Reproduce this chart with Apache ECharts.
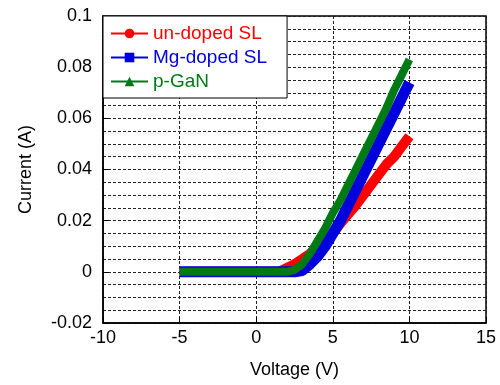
<!DOCTYPE html>
<html>
<head>
<meta charset="utf-8">
<script src="https://cdn.jsdelivr.net/npm/echarts@6/dist/echarts.min.js"></script>
<style>
  html, body { margin: 0; padding: 0; background: #fff; }
  #main { width: 500px; height: 385px; }
</style>
</head>
<body>
<div id="main"></div>
<script>
// voltage readings (V)
var voltage = [-5, 0, 1, 1.5, 2, 2.5, 3, 3.5, 4, 4.5, 5, 5.5, 6, 6.5, 7, 7.5, 8, 8.5, 9, 9.5, 10];
// current (A)
var undoped = [0, 0, 0, 0, 0.0015, 0.003, 0.005, 0.007, 0.0095, 0.012, 0.015, 0.019, 0.0225, 0.026, 0.030, 0.034, 0.038, 0.042, 0.045, 0.049, 0.053];
var mgDoped = [0, 0, 0, 0, 0, 0, 0.0005, 0.003, 0.006, 0.010, 0.015, 0.020, 0.026, 0.032, 0.038, 0.044, 0.050, 0.056, 0.062, 0.068, 0.074];
var pGaN    = [0, 0, 0, 0, 0, 0.0008, 0.003, 0.007, 0.012, 0.017, 0.023, 0.028, 0.034, 0.040, 0.046, 0.052, 0.058, 0.064, 0.071, 0.077, 0.083];

var seriesNames = ['un-doped SL', 'Mg-doped SL', 'p-GaN'];

function pairs(ys) {
  return voltage.map(function (v, i) { return [v, ys[i]]; });
}

var font = 'Liberation Sans, Arial, sans-serif';
var dash = { color: '#222', width: 1, type: [3, 2] };

var myChart = echarts.init(document.getElementById('main'));

var option = {
  animation: false,
  backgroundColor: '#fff',
  grid: { left: 103, right: 14, top: 16, bottom: 62, show: true, borderColor: '#000', borderWidth: 1.5 },
  legend: {
    orient: 'vertical',
    left: 103,
    top: 16,
    data: seriesNames,
    itemWidth: 37,
    itemHeight: 12,
    itemGap: 5,
    padding: [8, 20, 7, 7],
    backgroundColor: '#fff',
    borderColor: '#000',
    borderWidth: 1,
    textStyle: { fontFamily: font, fontSize: 19, color: 'inherit' }
  },
  xAxis: {
    type: 'value',
    min: -10, max: 15, interval: 5,
    name: 'Voltage (V)',
    nameLocation: 'middle',
    nameGap: 38,
    nameTextStyle: { fontFamily: font, fontSize: 18, color: '#000' },
    axisLine: { show: true, onZero: false, lineStyle: { color: '#000', width: 1.5 } },
    axisTick: { show: true, inside: true, length: 6, lineStyle: { color: '#000' } },
    axisLabel: { fontFamily: font, fontSize: 18, color: '#000', margin: 6 },
    splitLine: { show: true, lineStyle: dash }
  },
  yAxis: {
    type: 'value',
    min: -0.02, max: 0.1, interval: 0.02,
    name: 'Current (A)',
    nameLocation: 'middle',
    nameGap: 68,
    nameTextStyle: { fontFamily: font, fontSize: 18, color: '#000' },
    axisLine: { show: true, onZero: false, lineStyle: { color: '#000', width: 1.5 } },
    axisTick: { show: true, inside: true, length: 6, lineStyle: { color: '#000' } },
    axisLabel: { fontFamily: font, fontSize: 18, color: '#000', margin: 11 },
    splitLine: { show: true, lineStyle: dash },
    minorTick: { show: false, splitNumber: 4 },
    minorSplitLine: { show: true, lineStyle: dash }
  },
  series: [
    {
      name: seriesNames[0], type: 'line', data: pairs(undoped),
      symbol: 'circle', showSymbol: false,
      color: '#ff0000',
      lineStyle: { width: 10, color: '#ff0000' }
    },
    {
      name: seriesNames[1], type: 'line', data: pairs(mgDoped),
      symbol: 'rect', showSymbol: false,
      color: '#0000dd',
      lineStyle: { width: 11, color: '#0000dd' }
    },
    {
      name: seriesNames[2], type: 'line', data: pairs(pGaN),
      symbol: 'triangle', showSymbol: false,
      color: '#007a14',
      lineStyle: { width: 8, color: '#007a14' }
    }
  ]
};

myChart.setOption(option);
</script>
</body>
</html>
